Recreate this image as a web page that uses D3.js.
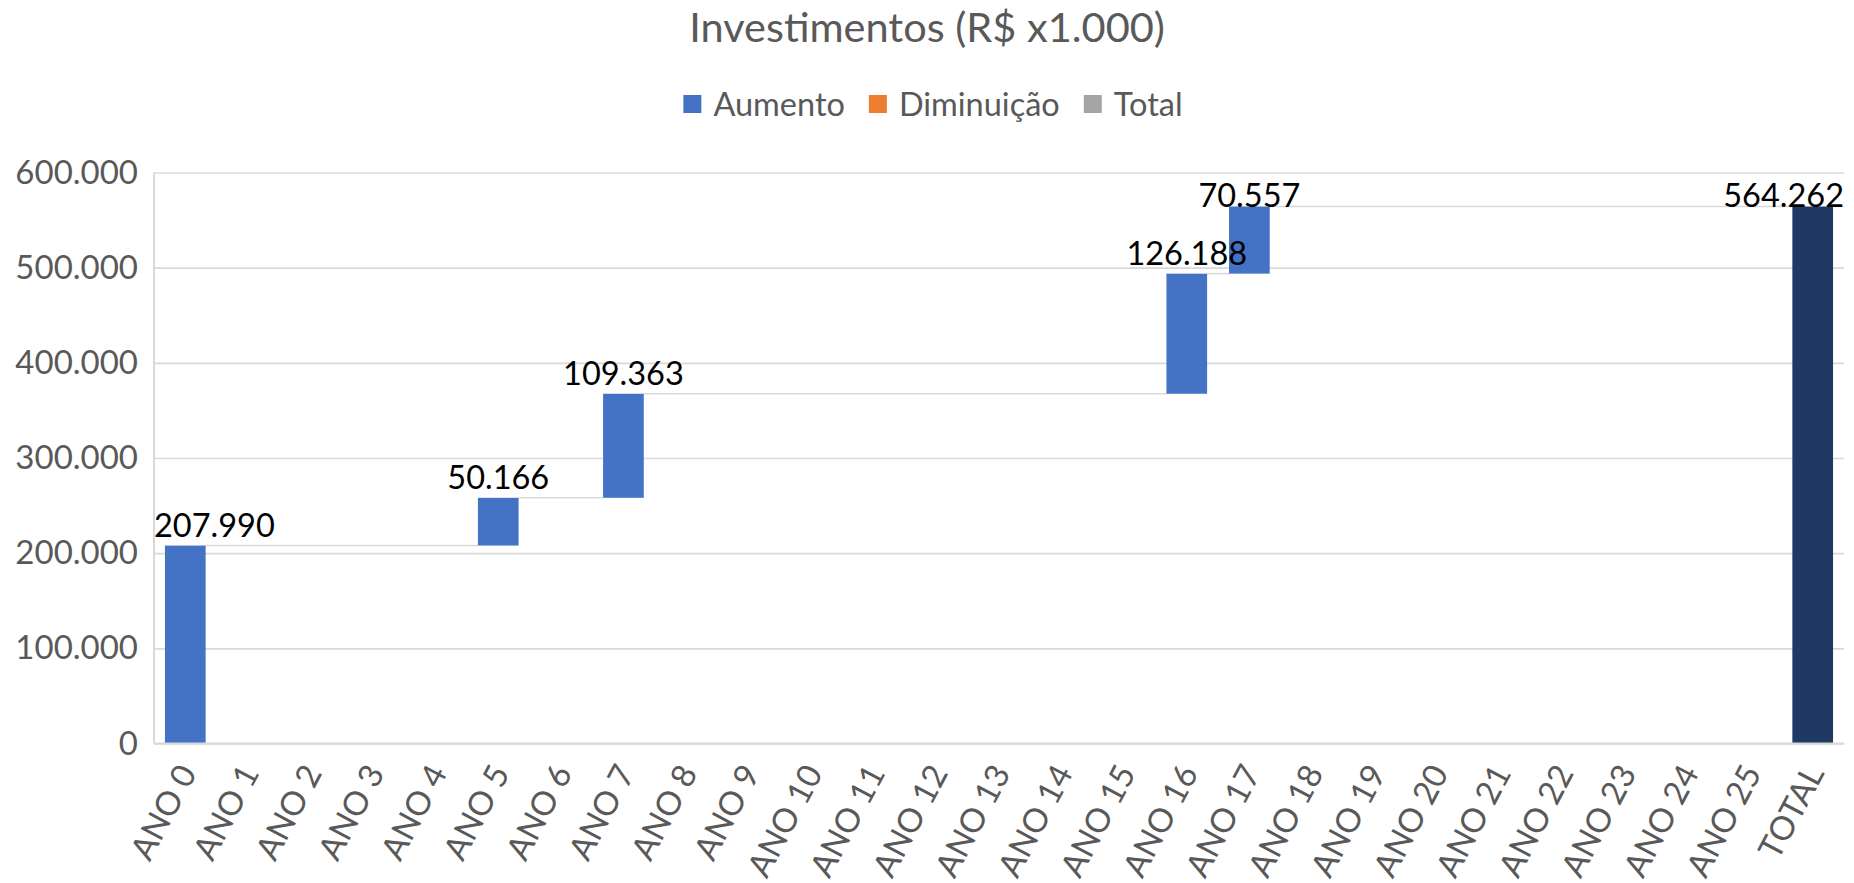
<!DOCTYPE html>
<html>
<head>
<meta charset="utf-8">
<script src="https://cdn.jsdelivr.net/npm/d3@7"></script>
<style>
  html, body { margin: 0; padding: 0; background: #fff; }
  svg { display: block; font-family: Lato, "Open Sans", sans-serif; }
</style>
</head>
<body>
<svg id="chart"></svg>
<script>
// Chart data (R$ x1.000)
const categories = ["ANO 0", "ANO 1", "ANO 2", "ANO 3", "ANO 4", "ANO 5", "ANO 6", "ANO 7",
    "ANO 8", "ANO 9", "ANO 10", "ANO 11", "ANO 12", "ANO 13", "ANO 14", "ANO 15",
    "ANO 16", "ANO 17", "ANO 18", "ANO 19", "ANO 20", "ANO 21", "ANO 22", "ANO 23",
    "ANO 24", "ANO 25", "TOTAL"];
const increments = [207990, 0, 0, 0, 0, 50166, 0, 109363,
    0, 0, 0, 0, 0, 0, 0, 0,
    126188, 70557, 0, 0, 0, 0, 0, 0,
    0, 0];
const totalValue = 564262;
const yTicks = [0, 100000, 200000, 300000, 400000, 500000, 600000];
const legendItems = ["Aumento", "Diminuição", "Total"];
const legendColors = ["#4472C4", "#ED7D31", "#A5A5A5"];
const title = "Investimentos (R$ x1.000)";

// Layout
const W = 1854, H = 883;
const plot = { left: 154, right: 1844, top: 172.5, bottom: 743.5 };
const gridColor = "#d9d9d9";
const textGray = "#595959";

const svg = d3.select("#chart").attr("width", W).attr("height", H);

const ptBR = d3.formatLocale({ decimal: ",", thousands: ".", grouping: [3], currency: ["R$", ""] });
const fmt = ptBR.format(",d");

const x = d3.scaleBand()
    .domain(categories)
    .range([plot.left, plot.right])
    .paddingInner(0.35)
    .paddingOuter(0.175);

const y = d3.scaleLinear()
    .domain([0, 600000])
    .range([plot.bottom, plot.top]);

// Title
svg.append("text")
    .attr("x", W / 2)
    .attr("y", 42)
    .attr("text-anchor", "middle")
    .attr("fill", textGray)
    .style("font-size", "41.5px")
    .text(title);

// Legend
const legend = svg.append("g");
let lx = 0;
legendItems.forEach((name, i) => {
    const item = legend.append("g").attr("transform", `translate(${lx},0)`);
    item.append("rect")
        .attr("x", 0).attr("y", 95)
        .attr("width", 18).attr("height", 18)
        .attr("fill", legendColors[i]);
    const t = item.append("text")
        .attr("x", 30).attr("y", 116)
        .attr("fill", textGray)
        .style("font-size", "32.5px")
        .text(name);
    lx += 30 + t.node().getComputedTextLength() + 24;
});
const legendW = lx - 24;
legend.attr("transform", `translate(${933 - legendW / 2},0)`);

// Gridlines + y axis labels
const yAxis = d3.axisLeft(y)
    .tickValues(yTicks)
    .tickSize(-(plot.right - plot.left))
    .tickPadding(16)
    .tickFormat(fmt);

const gy = svg.append("g")
    .attr("transform", `translate(${plot.left},0)`)
    .call(yAxis);
gy.select(".domain").remove();
gy.selectAll(".tick line").attr("stroke", gridColor).attr("stroke-width", 1.6);
gy.selectAll(".tick text")
    .attr("fill", textGray)
    .style("font-size", "33px")
    .style("font-family", "Lato, sans-serif");

// Left axis line
svg.append("line")
    .attr("x1", plot.left).attr("x2", plot.left)
    .attr("y1", plot.top).attr("y2", plot.bottom)
    .attr("stroke", gridColor).attr("stroke-width", 2);

// Waterfall data
let running = 0;
const steps = increments.map((v, i) => {
    const s = { cat: categories[i], start: running, end: running + v, value: v };
    running += v;
    return s;
});
steps.push({ cat: "TOTAL", start: 0, end: totalValue, value: totalValue, total: true });
const shown = steps.filter(d => d.value > 0);

// Connector lines between consecutive visible bars
const connectors = shown.slice(0, -1).map((d, i) => ({ from: d, to: shown[i + 1] }));
svg.append("g").selectAll("line")
    .data(connectors)
    .enter().append("line")
    .attr("x1", d => x(d.from.cat) + x.bandwidth())
    .attr("x2", d => x(d.to.cat))
    .attr("y1", d => y(d.from.end))
    .attr("y2", d => y(d.from.end))
    .attr("stroke", gridColor)
    .attr("stroke-width", 1.6);

// Bars
svg.append("g").selectAll("rect")
    .data(shown)
    .enter().append("rect")
    .attr("x", d => x(d.cat))
    .attr("width", x.bandwidth())
    .attr("y", d => y(d.end))
    .attr("height", d => y(d.start) - y(d.end))
    .attr("fill", d => d.total ? "#203864" : "#4472C4");

// Bottom axis line
svg.append("line")
    .attr("x1", plot.left).attr("x2", plot.right)
    .attr("y1", plot.bottom).attr("y2", plot.bottom)
    .attr("stroke", gridColor).attr("stroke-width", 2);

// Data labels, kept inside the plot area
const labels = svg.append("g").selectAll("text")
    .data(shown)
    .enter().append("text")
    .attr("fill", "#000")
    .style("font-size", "32.5px")
    .attr("text-anchor", "start")
    .text(d => fmt(d.value));
labels.each(function(d) {
    const w = this.getComputedTextLength();
    let lx = x(d.cat) + x.bandwidth() / 2 - w / 2;
    lx = Math.max(plot.left, Math.min(plot.right - w, lx));
    const ly = Math.max(y(d.end) - 9, plot.top + 34);
    d3.select(this).attr("x", lx).attr("y", ly);
});

// X axis labels
const xAxis = d3.axisBottom(x).tickSize(0).tickPadding(0);
const gx = svg.append("g")
    .attr("transform", `translate(0,${plot.bottom})`)
    .call(xAxis);
gx.select(".domain").remove();
gx.selectAll(".tick text")
    .attr("fill", textGray)
    .style("font-size", "33px")
    .style("font-family", "Lato, sans-serif")
    .attr("text-anchor", "end")
    .attr("dy", "0.35em")
    .attr("transform", "translate(2,24) rotate(-62)");
</script>
</body>
</html>
